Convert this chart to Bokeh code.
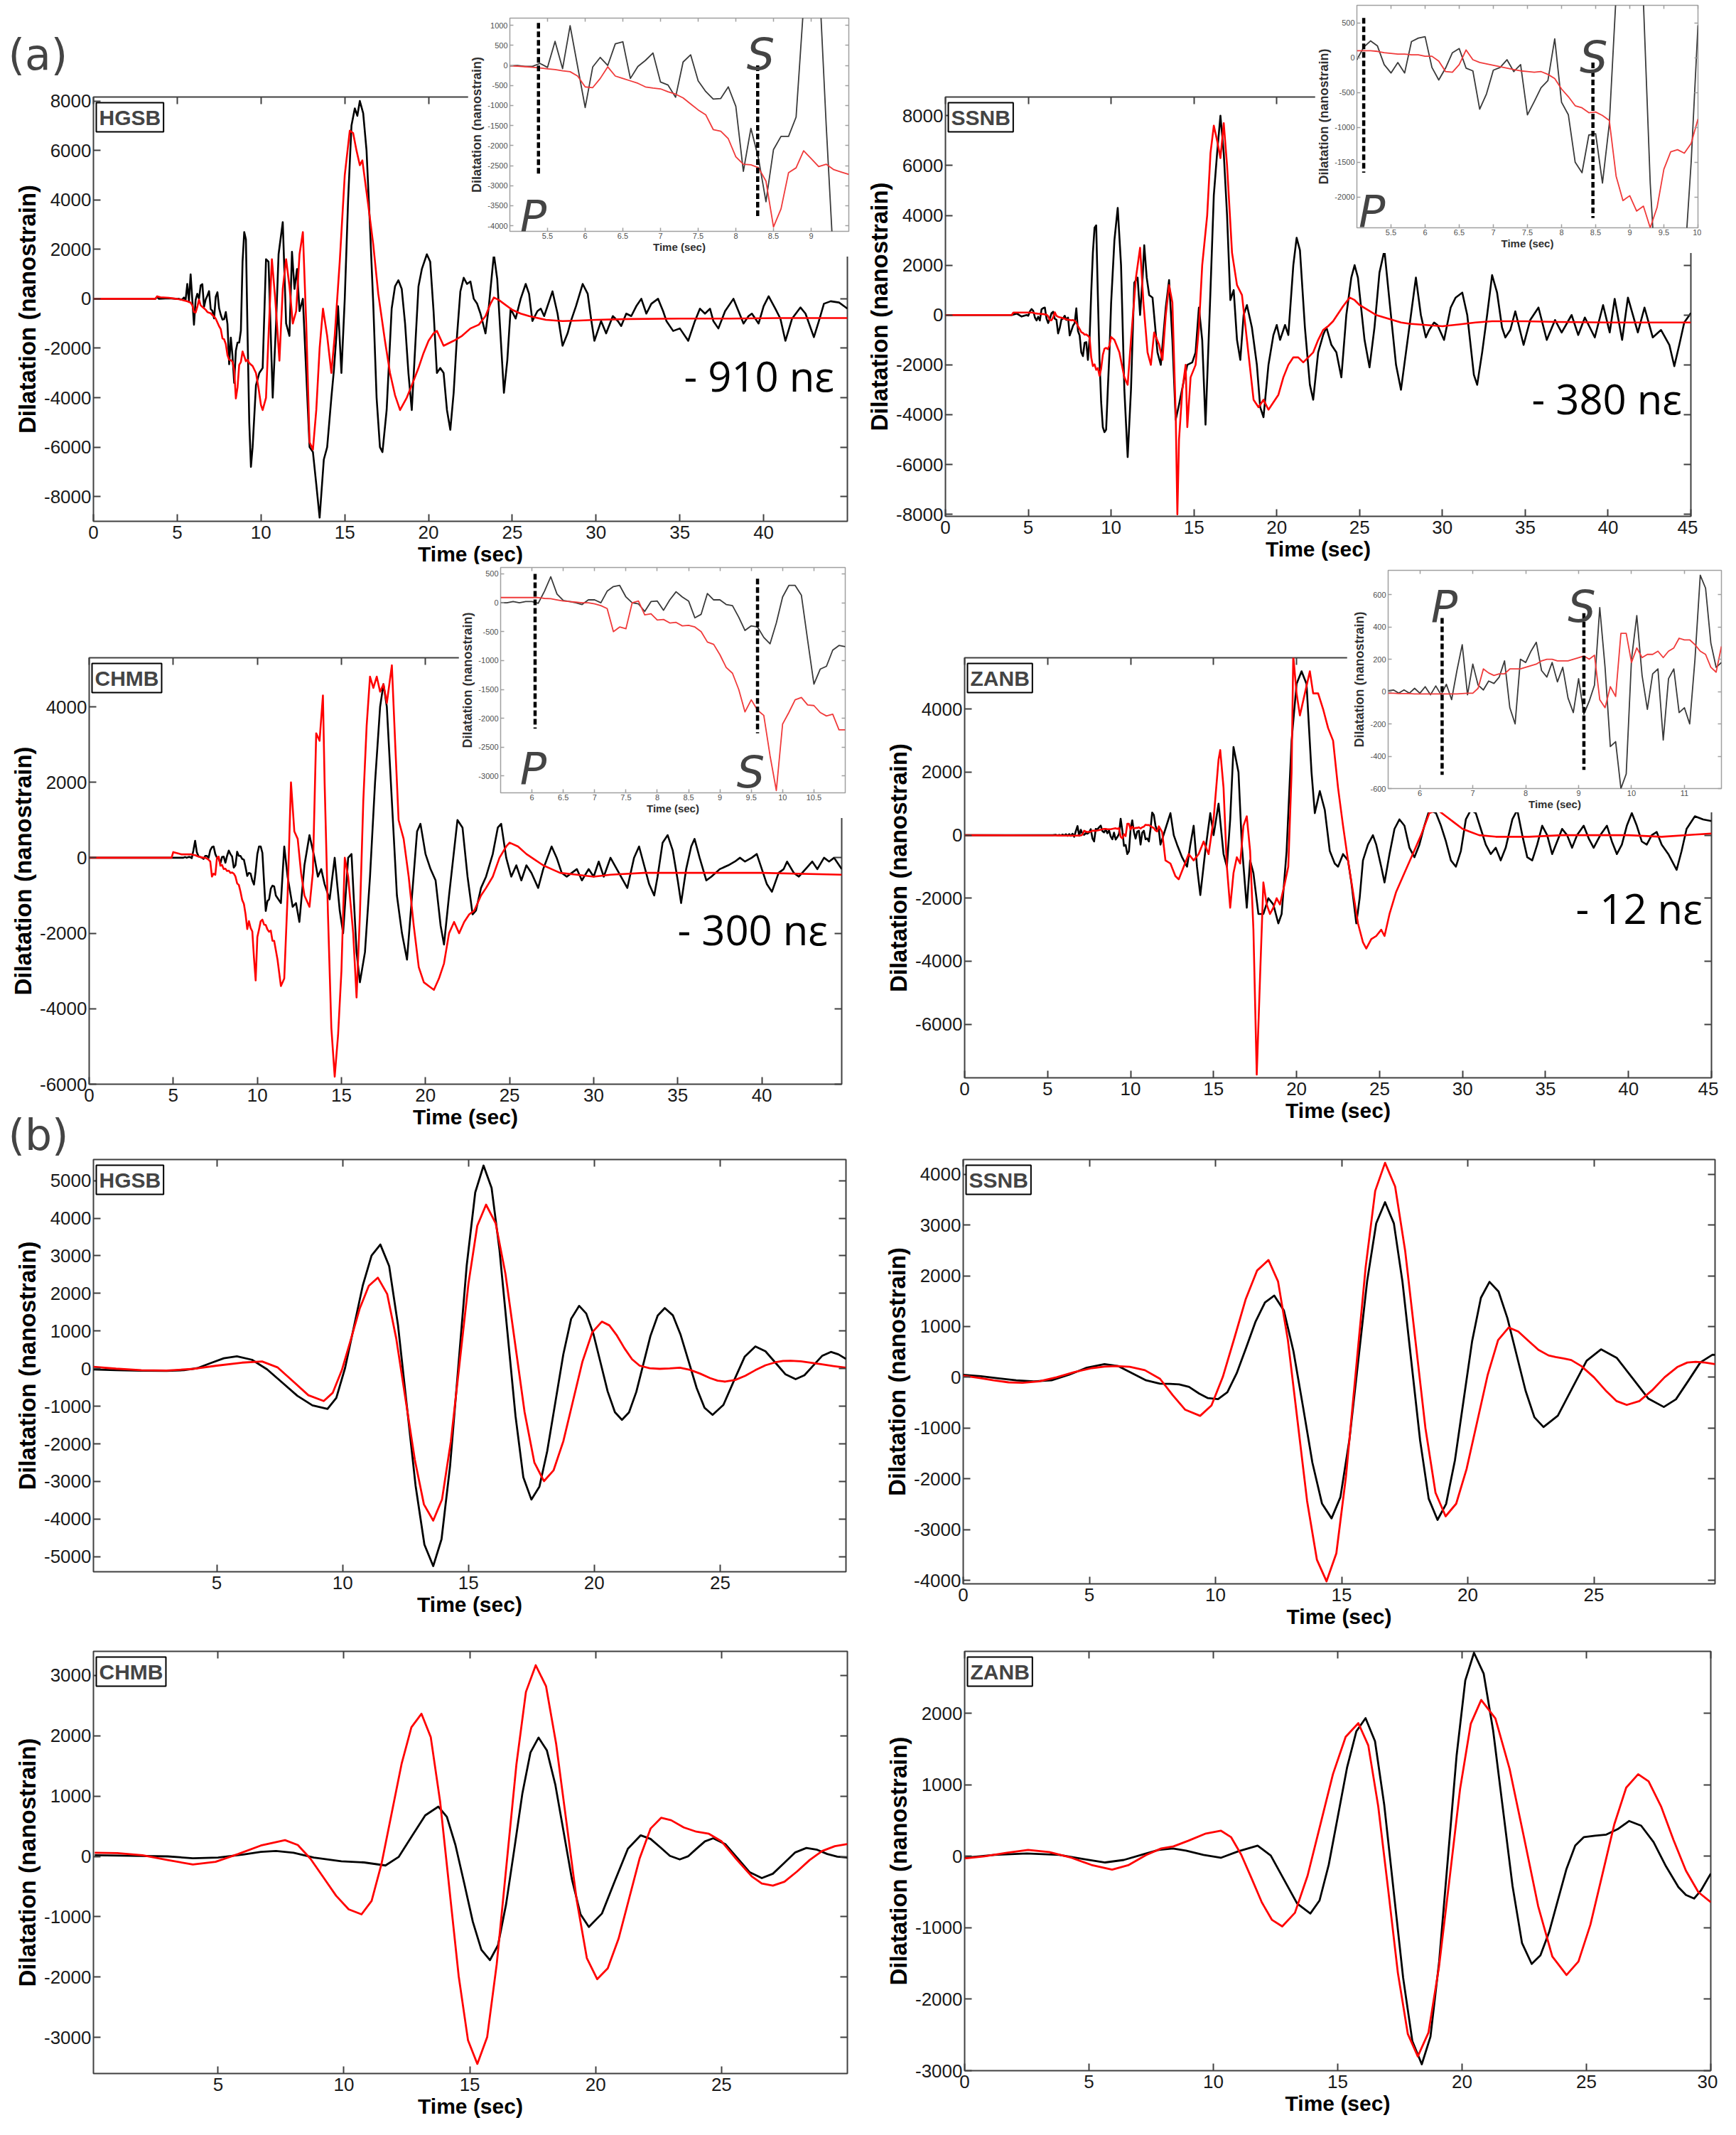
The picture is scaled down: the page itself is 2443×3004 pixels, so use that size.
from bokeh.plotting import figure
from bokeh.models import Range1d, FixedTicker, NumeralTickFormatter, LinearAxis, Label
from bokeh.layouts import row, column
from bokeh.embed import file_html
from bokeh.resources import INLINE

# ===================== DATA =====================
# ---- (a) recorded (black) vs modelled (red) dilatation, 0.1 s samples in the zoom window ----
# HGSB
hgsb_zoom_start = 5.0
hgsb_obs_zoom = [-10, 0, -25, -25, 50, -50, 600, -80, 990, -30,
                 -1050, -40, 200, 0, 540, 590, -325, -25, 125, 310,
                 -415, -490, -795, 85, 265, -385, -650, -840, -825, -535,
                 -1020, -2645, -1570, -2310, -3400, -2100, -1770, -1770, -1290, 1500,
                 2700, 2400, -1500, -5000, -6800, -6000]
hgsb_syn_zoom = [-10, -20, -30, -45, -65, -84, -102, -133, -157, -265,
                 -536, -554, -325, -36, -265, -325, -385, -446, -536, -566,
                 -585, -657, -717, -810, -960, -1110, -1230, -1600, -1640, -1830,
                 -2280, -2465, -2480, -2550, -2885, -4030, -3580, -2675, -2555, -2130,
                 -2325, -2525, -2465, -2600, -2660, -2720]
hgsb_obs_pre = [(0, 0), (3.7, 0), (3.8, 80), (3.9, 0), (4.5, 20), (4.9, 0)]
hgsb_syn_pre = [(0, 0), (3.7, 0), (3.8, 100), (4.0, 60), (4.5, 40), (4.9, 0)]
hgsb_obs_post = [(9.7, -3500), (9.9, -3000), (10.1, -2800), (10.3, 1600), (10.45, 1500), (10.7, -4000), (10.9, -1000),
                 (11.05, 1800), (11.3, 3100), (11.5, -1000), (11.7, -1500), (11.85, 1900), (12.0, 400), (12.15, 1200),
                 (12.3, -500), (12.5, 0), (12.7, -3000), (12.9, -6000), (13.1, -6200), (13.3, -7500), (13.5, -8850),
                 (13.75, -6500), (13.95, -6000), (14.2, -4000), (14.35, -2900), (14.5, -1500), (14.6, -300),
                 (14.8, -3000), (15.0, 0), (15.2, 4000), (15.4, 7000), (15.6, 7700), (15.75, 7400), (15.9, 8000),
                 (16.1, 7500), (16.3, 6000), (16.5, 3000), (16.7, -200), (16.9, -4000), (17.1, -6000), (17.25, -6200),
                 (17.5, -4500), (17.8, -400), (18.0, 500), (18.2, 750), (18.4, 400), (18.6, -1000), (18.8, -3000),
                 (19.0, -4500), (19.2, -2000), (19.4, 500), (19.6, 1200), (19.9, 1800), (20.1, 1500), (20.3, -500),
                 (20.5, -3000), (20.7, -2800), (20.9, -3000), (21.1, -4500), (21.3, -5300), (21.5, -3800),
                 (21.7, -1500), (21.9, 300), (22.1, 850), (22.3, 600), (22.5, 700), (22.7, 0), (22.9, -200),
                 (23.1, -600), (23.4, -1400), (23.6, -300), (23.9, 1800), (24.1, 800), (24.3, -1500), (24.5, -3800),
                 (24.7, -2500), (24.9, -400), (25.2, -800), (25.5, 0), (25.8, 600), (26.0, 200), (26.2, -900),
                 (26.5, -500), (26.7, -400), (26.9, -700), (27.2, -100), (27.4, 300), (27.7, -600), (28.0, -1900),
                 (28.3, -1400), (28.5, -900), (28.8, -300), (29.2, 600), (29.5, 200), (29.7, -800), (29.9, -1700),
                 (30.2, -1100), (30.3, -900), (30.6, -1400), (31.0, -700), (31.3, -900), (31.5, -1100), (31.8, -600),
                 (32.1, -700), (32.4, -300), (32.7, 0), (33.0, -600), (33.3, -200), (33.7, 0), (34.0, -500),
                 (34.2, -900), (34.6, -1300), (35.0, -1200), (35.5, -1700), (35.9, -900), (36.2, -400), (36.5, -600),
                 (36.8, -400), (37.0, -900), (37.3, -1200), (37.7, -500), (38.2, 0), (38.5, -500), (38.8, -1000),
                 (39.1, -700), (39.3, -600), (39.7, -1000), (40.0, -300), (40.3, 100), (40.7, -400), (41.0, -800),
                 (41.3, -1700), (41.7, -800), (42.2, -350), (42.5, -600), (43.0, -1550), (43.3, -900), (43.6, -200),
                 (44.0, -100), (44.5, -150), (44.8, -300), (45.0, -400)]
hgsb_syn_post = [(9.7, -3000), (9.85, -3600), (10.0, -4300), (10.1, -4500), (10.3, -4000), (10.45, -1500),
                 (10.65, 1600), (10.85, 0), (11.1, -2500), (11.3, 400), (11.5, 1600), (11.7, 500), (11.9, -1000),
                 (12.1, -500), (12.3, 1800), (12.5, 2700), (12.7, -1000), (12.9, -5800), (13.1, -6100), (13.3, -4500),
                 (13.5, -2000), (13.7, -400), (13.95, -1500), (14.2, -3000), (14.4, -1500), (14.7, 1500), (15.0, 5000),
                 (15.3, 6800), (15.5, 6700), (15.7, 6000), (15.9, 5400), (16.05, 5600), (16.4, 3800), (16.7, 2200),
                 (17.0, 200), (17.4, -1700), (17.7, -3000), (18.0, -3900), (18.3, -4500), (18.7, -4000), (19.0, -3500),
                 (19.4, -2800), (19.7, -2200), (20.0, -1700), (20.3, -1400), (20.5, -1300), (20.7, -1600),
                 (20.9, -1900), (21.2, -1800), (21.5, -1700), (22.0, -1500), (22.5, -1200), (23.0, -1050),
                 (23.4, -700), (23.7, -200), (23.9, 50), (24.2, -50), (24.5, -200), (25.0, -450), (25.5, -600),
                 (26.0, -700), (27.0, -850), (28.0, -900), (29.0, -880), (30.0, -850), (32.0, -820), (35.0, -800),
                 (38.0, -800), (41.0, -780), (45.0, -780)]

# SSNB
ssnb_zoom_start = 5.0
ssnb_obs_zoom = [-30, 150, 240, 170, -100, -220, -70, -220, 230, 280,
                 300, -140, -320, -150, 70, 130, -150, -190, -740, -520,
                 -180, -140, -30, -200, -100, -820, -630, -430, -330, 270,
                 -640, -820, -1500, -1650, -1110, -1090, -1800, -950, 900, 2500,
                 3500, 3600, 800, -1800, -3500, -4500, -4700, -4600, -3000, -1500,
                 465]
ssnb_syn_zoom = [100, 100, 100, 90, 70, 60, 50, 50, 40, 40,
                 20, 20, -50, -200, -210, -100, 110, -30, -70, -90,
                 -110, -130, -150, -170, -190, -200, -210, -200, -240, -300,
                 -450, -560, -690, -720, -790, -780, -830, -900, -1700, -2050,
                 -1980, -2200, -2130, -2440, -2150, -1600, -1350, -1320, -1370, -1230,
                 -880]
ssnb_obs_pre = [(0, 0), (4.0, 0), (4.3, 60), (4.6, -60), (4.9, 0)]
ssnb_syn_pre = [(0, 0), (4.0, 0), (4.1, 100), (4.9, 100)]
ssnb_obs_post = [(10.2, 3000), (10.4, 4300), (10.6, 2000), (10.8, -3000), (11.0, -5700), (11.2, -3000), (11.4, 1300),
                 (11.6, 1500), (11.75, 0), (11.9, 1500), (12.0, 2800), (12.15, 1500), (12.3, 800), (12.5, 700),
                 (12.8, -1500), (13.0, -2000), (13.3, 300), (13.5, 1400), (13.7, -1000), (13.9, -4200), (14.1, -3600),
                 (14.4, -2600), (14.6, -2000), (14.9, -1900), (15.1, -1500), (15.3, 300), (15.5, -1000), (15.7, -4400),
                 (16.0, 1000), (16.2, 4800), (16.4, 6500), (16.6, 8000), (16.8, 6500), (17.0, 4000), (17.2, 600),
                 (17.4, 1000), (17.6, -1000), (17.8, -1800), (18.0, 0), (18.2, 400), (18.5, -500), (18.8, -2000),
                 (19.0, -3700), (19.2, -4100), (19.5, -2000), (19.8, -800), (20.0, -400), (20.2, -1000), (20.5, -400),
                 (20.7, -800), (21.0, 2000), (21.2, 3100), (21.4, 2600), (21.7, -500), (22.0, -2800), (22.2, -3400),
                 (22.5, -1500), (22.8, -800), (23.0, -500), (23.3, -1200), (23.6, -1500), (23.9, -2500), (24.2, 0),
                 (24.5, 1500), (24.7, 2000), (24.9, 1500), (25.3, -1000), (25.6, -2100), (25.9, -500), (26.2, 1700),
                 (26.5, 2600), (26.8, 600), (27.2, -2000), (27.5, -3000), (27.8, -1500), (28.1, 0), (28.4, 1500),
                 (28.7, 0), (29.0, -900), (29.2, -600), (29.5, -300), (29.7, -400), (30.1, -1000), (30.5, 300),
                 (30.8, 700), (31.2, 900), (31.5, 0), (31.9, -2400), (32.1, -2800), (32.4, -1500), (32.7, 0),
                 (33.0, 1600), (33.3, 900), (33.6, -500), (33.8, -900), (34.1, -600), (34.4, 150), (34.9, -1200),
                 (35.3, -200), (35.8, 300), (36.3, -1000), (36.8, -200), (37.2, -700), (37.8, 0), (38.2, -800),
                 (38.6, -100), (39.2, -900), (39.7, 400), (40.1, -700), (40.4, 650), (40.85, -1000), (41.2, 700),
                 (41.8, -700), (42.2, 300), (42.7, -900), (43.2, -600), (43.7, -1200), (44.0, -2050), (44.3, -1200),
                 (44.6, -300), (45.0, 80)]
ssnb_syn_post = [(10.2, -1000), (10.5, -1500), (10.8, -2500), (11.0, -2800), (11.2, -1000), (11.5, 1500),
                 (11.75, 2700), (11.95, 500), (12.2, -1500), (12.4, -2000), (12.6, -700), (12.9, -1200), (13.1, -1800),
                 (13.3, 0), (13.5, 1200), (13.7, 500), (13.9, -4000), (14.0, -8000), (14.1, -5000), (14.3, -3000),
                 (14.5, -2000), (14.6, -4500), (14.8, -2500), (15.1, -2000), (15.3, -500), (15.5, 2000), (15.8, 4000),
                 (16.0, 6500), (16.2, 7600), (16.4, 7000), (16.6, 6300), (16.8, 7700), (17.0, 6000), (17.3, 2500),
                 (17.6, 1200), (17.9, 800), (18.2, -1000), (18.6, -3400), (18.9, -3700), (19.2, -3400), (19.5, -3800),
                 (19.8, -3500), (20.1, -3200), (20.4, -2500), (20.7, -2000), (21.0, -1700), (21.3, -1700),
                 (21.6, -1900), (21.9, -1700), (22.2, -1500), (22.5, -1000), (22.8, -600), (23.1, -450), (23.4, -250),
                 (23.7, 50), (24.0, 350), (24.4, 700), (24.7, 600), (25.0, 400), (25.5, 200), (26.0, 0), (26.5, -100),
                 (27.0, -200), (27.5, -300), (28.0, -350), (29.0, -400), (30.0, -450), (31.0, -380), (32.0, -300),
                 (33.0, -250), (35.0, -250), (37.0, -280), (40.0, -300), (45.0, -300)]

# CHMB
chmb_zoom_start = 5.5
chmb_obs_zoom = [0, 0, 20, 0, 20,
                 20, -10, 200, 450, 150, 40, 20, 0, -30, 50,
                 50, 0, 200, 280, 300, 100, 0, -20, -150, 20,
                 30, -130, 50, 190, 100, 30, -260, -200, 160, 50,
                 50, -30, -50, -250, -480, -400, -420, -600, -710, -350,
                 100, 300, 300, 130, -650, -1410, -1150, -1100, -820, -740,
                 -760]
chmb_syn_zoom = [90, 90, 90, 90, 90,
                 90, 90, 75, 70, 50, 30, 20, 10, 0, 0,
                 -20, -50, -100, -500, -420, -450, 0, 30, -210, -190,
                 -300, -290, -350, -340, -400, -390, -420, -500, -680, -720,
                 -900, -1120, -1220, -1500, -1890, -1680, -1860, -1950, -2650, -3250,
                 -2100, -1900, -1680, -1640, -1770, -1780, -1900, -1960, -1930, -2200,
                 -2200]
chmb_obs_pre = [(0, 0), (5.4, 0)]
chmb_syn_pre = [(0, 0), (4.9, 0), (5.0, 150), (5.4, 100)]
chmb_obs_post = [(11.1, -1000), (11.4, -1200), (11.6, 300), (11.8, -500), (12.1, -1300), (12.3, -1200), (12.5, -1700),
                 (12.8, -200), (13.1, 600), (13.4, 0), (13.6, -500), (13.8, -300), (14.0, -700), (14.3, -1100),
                 (14.6, 0), (14.9, -1400), (15.1, -2000), (15.4, 0), (15.6, 100), (15.9, -2500), (16.1, -3300),
                 (16.4, -2500), (16.7, -500), (17.0, 2000), (17.3, 4000), (17.5, 4600), (17.7, 4000), (18.0, 1500),
                 (18.3, -1000), (18.6, -2000), (18.9, -2700), (19.2, -1000), (19.5, 700), (19.7, 900), (20.0, 100),
                 (20.3, -300), (20.6, -600), (20.9, -1800), (21.1, -2300), (21.4, -1000), (21.7, 200), (21.9, 1000),
                 (22.2, 800), (22.5, -500), (22.8, -1500), (23.0, -1400), (23.3, -800), (23.6, -500), (24.0, 100),
                 (24.3, 800), (24.5, 900), (24.8, 0), (25.1, -500), (25.4, -200), (25.7, -600), (26.0, -200),
                 (26.3, -400), (26.7, -800), (27.0, -300), (27.5, 300), (27.8, 0), (28.1, -400), (28.4, -500),
                 (28.7, -400), (29.0, -300), (29.3, -600), (29.7, -300), (30.0, -500), (30.3, -100), (30.6, -500),
                 (31.0, 0), (31.5, -400), (32.0, -800), (32.4, 0), (32.7, 300), (33.0, -200), (33.3, -700),
                 (33.6, -1000), (33.8, -500), (34.1, 400), (34.4, 600), (34.7, 200), (35.0, -600), (35.2, -1200),
                 (35.5, -300), (35.8, 300), (36.0, 500), (36.3, 0), (36.7, -600), (37.0, -500), (37.5, -300),
                 (38.0, -200), (38.4, -100), (38.7, 0), (39.0, -100), (39.4, 0), (39.7, 100), (40.0, -300),
                 (40.3, -700), (40.6, -900), (41.0, -400), (41.3, -300), (41.5, -100), (41.9, -400), (42.2, -500),
                 (42.6, -300), (43.0, -100), (43.3, -300), (43.7, 0), (44.0, -100), (44.3, 0), (44.75, -300)]
chmb_syn_post = [(11.2, -2700), (11.4, -3400), (11.6, -3200), (11.8, -1000), (12.0, 2000), (12.2, 700), (12.4, 500),
                 (12.6, -400), (12.8, -1000), (13.1, -1300), (13.3, -400), (13.5, 3300), (13.7, 3100), (13.9, 4300),
                 (14.0, 2000), (14.2, -1500), (14.4, -4500), (14.6, -5800), (14.8, -4700), (15.0, -3000), (15.2, 0),
                 (15.4, -500), (15.7, -2000), (15.9, -3700), (16.1, -1500), (16.3, 1500), (16.5, 3500), (16.7, 4800),
                 (16.9, 4500), (17.1, 4800), (17.3, 4400), (17.5, 4600), (17.7, 4100), (18.0, 5100), (18.2, 3000),
                 (18.4, 1000), (18.7, 500), (19.0, -500), (19.3, -1800), (19.6, -2900), (19.9, -3300), (20.2, -3400),
                 (20.5, -3500), (20.8, -3200), (21.1, -2800), (21.4, -2000), (21.7, -1700), (22.0, -2000),
                 (22.3, -1700), (22.6, -1500), (22.9, -1400), (23.3, -1000), (23.6, -800), (24.0, -500), (24.4, 0),
                 (24.8, 300), (25.0, 400), (25.5, 300), (26.0, 100), (26.5, -50), (27.0, -200), (27.5, -300),
                 (28.0, -400), (29.0, -450), (30.0, -500), (31.0, -450), (33.0, -400), (36.0, -400), (40.0, -400),
                 (44.75, -450)]

# ZANB
zanb_zoom_start = 5.4
zanb_obs_zoom = [5, 10, -10, 10, -10, 20,
                 -10, 30, -20, 35, -20, 45, -50, 130, 290, -20,
                 170, 40, 10, 65, 50, 90, 190, -100, -200, 200,
                 180, 250, 305, 130, 90, 180, 60, 150, -40, -130,
                 80, -140, -60, 40, 520, 150, -340, -310, -600, -510,
                 200, 470, 100, -110, 110, 140, -300, 80, 140, -130,
                 -100, -200, 200, 720, 640, 300, 150, 180]
zanb_syn_zoom = [-10, -10, -12, -12, -12, -15,
                 -15, -15, -15, -15, -15, -15, -15, -15, -12, -10,
                 -10, 20, 140, 115, 100, 110, 110, 140, 140, 140,
                 150, 160, 170, 190, 200, 200, 190, 190, 190, 200,
                 210, 220, 200, 225, -50, -100, 30, -30, 360, 360,
                 180, 270, 210, 230, 230, 250, 210, 250, 270, 330,
                 320, 320, 290, 250, 230, 150, 120, 280]
zanb_obs_pre = [(0, 0), (5.3, 0)]
zanb_syn_pre = [(0, 0), (5.3, -10)]
zanb_obs_post = [(11.8, -300), (12.1, 200), (12.4, 700), (12.6, 0), (12.8, -300), (13.1, -700), (13.4, -1000),
                 (13.6, -300), (13.8, 300), (14.0, -1000), (14.2, -1900), (14.5, -500), (14.8, 700), (15.0, 0),
                 (15.3, 1000), (15.6, -600), (15.8, -1000), (16.0, 500), (16.2, 2800), (16.5, 2000), (16.7, -300),
                 (17.0, -2300), (17.2, -800), (17.4, -1200), (17.7, -2500), (18.0, -2500), (18.3, -2000),
                 (18.6, -2200), (18.9, -2800), (19.1, -2500), (19.4, -500), (19.7, 3000), (20.0, 4800), (20.3, 5200),
                 (20.6, 4800), (20.9, 2000), (21.1, 700), (21.4, 1400), (21.7, 800), (22.0, -500), (22.3, -900),
                 (22.5, -1000), (22.8, -600), (23.1, -800), (23.3, -1500), (23.6, -2800), (23.8, -2000), (24.0, -800),
                 (24.3, -300), (24.6, 0), (24.8, -300), (25.1, -1000), (25.3, -1500), (25.6, -600), (25.9, 200),
                 (26.2, 500), (26.5, 300), (26.8, -400), (27.1, -700), (27.4, -300), (27.7, 300), (28.0, 800),
                 (28.4, 700), (28.7, 300), (29.0, -200), (29.3, -800), (29.6, -1000), (29.9, -500), (30.2, 500),
                 (30.5, 800), (30.8, 700), (31.1, 200), (31.4, -300), (31.7, -600), (32.0, -400), (32.3, -800),
                 (32.6, -400), (33.0, 500), (33.3, 800), (33.6, 0), (33.9, -700), (34.2, -800), (34.5, -300),
                 (34.8, 300), (35.1, 0), (35.4, -600), (35.7, -200), (36.0, 200), (36.3, 0), (36.6, -400), (36.9, 0),
                 (37.3, 300), (37.6, -100), (37.9, -400), (38.3, 0), (38.7, 300), (39.0, -200), (39.3, -600),
                 (39.6, -300), (39.9, 300), (40.2, 700), (40.5, 300), (40.8, -200), (41.1, -300), (41.4, 0),
                 (41.7, 100), (42.0, -300), (42.4, -600), (42.9, -1100), (43.2, -500), (43.5, 200), (44.0, 600),
                 (44.5, 500), (45.0, 450)]
zanb_syn_post = [(11.9, 100), (12.1, -800), (12.4, -900), (12.7, -1300), (12.9, -1400), (13.2, -1000), (13.5, -600),
                 (13.8, -800), (14.1, -600), (14.4, -200), (14.7, -600), (15.0, 500), (15.3, 2400), (15.4, 2700),
                 (15.6, 1500), (15.8, -1000), (16.0, -2300), (16.2, -1200), (16.4, -700), (16.6, -900), (16.8, 300),
                 (17.0, 600), (17.2, -500), (17.4, -3000), (17.6, -7600), (17.8, -4500), (18.0, -1500), (18.2, -2200),
                 (18.4, -2500), (18.6, -2300), (18.8, -2000), (19.0, -2200), (19.3, -1500), (19.5, -1000),
                 (19.7, 2000), (19.8, 5700), (20.0, 4500), (20.2, 3800), (20.5, 4500), (20.8, 5200), (21.0, 4500),
                 (21.3, 4500), (21.6, 4000), (21.9, 3400), (22.2, 3000), (22.5, 1500), (22.8, 300), (23.1, -800),
                 (23.4, -1800), (23.7, -2800), (24.0, -3400), (24.2, -3600), (24.5, -3300), (24.8, -3200),
                 (25.1, -3000), (25.3, -3200), (25.6, -2500), (26.0, -1800), (26.5, -1200), (27.0, -600), (27.5, 0),
                 (28.0, 700), (28.5, 800), (29.0, 600), (29.5, 400), (30.0, 200), (30.5, 100), (31.0, 0),
                 (32.0, -50), (34.0, -50), (36.0, 0), (40.0, 0), (42.0, -50), (44.0, 20), (45.0, 50)]

# P / S arrival picks (time, top, bottom), their letters, and the final offsets
hgsb_p = (5.38, 1060, -2765); hgsb_s = (8.29, 0, -3790)
ssnb_p = (5.10, 570, -1650); ssnb_s = (8.46, -70, -2300)
chmb_p = (6.05, 500, -2180); chmb_s = (9.60, 415, -2260)
zanb_p = (6.42, 455, -515); zanb_s = (9.10, 485, -485)
hgsb_ps_text = ((5.31, -3760), (8.33, 277))
ssnb_ps_text = ((5.22, -2210), (8.47, 10))
chmb_ps_text = ((6.02, -2874), (9.49, -2937))
zanb_ps_text = ((6.46, 524), (9.06, 524))
offset_labels = {"HGSB": "- 910 nε", "SSNB": "- 380 nε", "CHMB": "- 300 nε", "ZANB": "- 12 nε"}

# ---- (b) filtered waveforms ----
hgsb_b_obs = [(0.1, -20), (1.0, -40), (2.0, -55), (3.0, -60), (3.7, -40), (4.23, 14), (4.75, 145), (5.28, 276),
              (5.8, 330), (6.4, 236), (7.0, -20), (7.6, -370), (8.2, -720), (8.8, -976), (9.4, -1070), (9.75, -777),
              (10.1, 23), (10.45, 1115), (10.8, 2207), (11.15, 3007), (11.5, 3300), (11.85, 2727), (12.2, 1162),
              (12.55, -975), (12.9, -3112), (13.25, -4677), (13.6, -5250), (13.93, -4536), (14.27, -2587),
              (14.6, 75), (14.93, 2737), (15.27, 4686), (15.6, 5400), (15.92, 4805), (16.23, 3180), (16.55, 960),
              (16.87, -1260), (17.18, -2885), (17.5, -3480), (17.82, -3135), (18.13, -2192), (18.45, -905),
              (18.77, 382), (19.08, 1325), (19.4, 1670), (19.68, 1467), (19.97, 912), (20.25, 155), (20.53, -602),
              (20.82, -1157), (21.1, -1360), (21.38, -1161), (21.67, -617), (21.95, 125), (22.23, 867),
              (22.52, 1411), (22.8, 1610), (23.12, 1420), (23.43, 900), (23.75, 190), (24.07, -520), (24.38, -1040),
              (24.7, -1230), (25.13, -963), (25.55, -320), (25.98, 323), (26.4, 590), (26.8, 463), (27.2, 155),
              (27.6, -153), (28.0, -280), (28.35, -174), (28.7, 82), (29.05, 338), (29.4, 445), (29.7, 380),
              (30.0, 260)]
hgsb_b_syn = [(0.1, 50), (1.0, 0), (2.0, -40), (3.0, -50), (4.0, -10), (5.0, 80), (6.0, 160), (6.8, 190), (7.41, 36),
              (8.03, -335), (8.64, -706), (9.25, -860), (9.61, -640), (9.97, -40), (10.33, 780), (10.68, 1600),
              (11.04, 2200), (11.4, 2420), (11.77, 1987), (12.13, 805), (12.5, -810), (12.87, -2425), (13.23, -3607),
              (13.6, -4040), (13.95, -3477), (14.3, -1940), (14.65, 160), (15.0, 2260), (15.35, 3797), (15.7, 4360),
              (16.08, 3868), (16.47, 2522), (16.85, 685), (17.23, -1152), (17.62, -2498), (18.0, -2990),
              (18.38, -2706), (18.77, -1930), (19.15, -870), (19.53, 190), (19.92, 966), (20.3, 1250), (20.6, 1150),
              (20.9, 880), (21.2, 540), (21.5, 250), (21.8, 80), (22.2, 10), (22.6, -5), (23.0, 5), (23.4, 25),
              (23.8, -30), (24.2, -130), (24.6, -250), (24.9, -320), (25.2, -345), (25.6, -300), (26.0, -190),
              (26.4, -40), (26.8, 90), (27.2, 170), (27.5, 205), (27.8, 210), (28.2, 195), (28.6, 160), (29.0, 120),
              (29.5, 70), (30.0, 25)]
ssnb_b_obs = [(0, 50), (0.7, 20), (1.4, -20), (2.1, -60), (2.8, -80), (3.5, -60), (4.2, 50), (4.9, 190), (5.6, 260),
              (6.15, 220), (6.7, 80), (7.25, -60), (7.8, -125), (8.2, -130), (8.56, -140), (8.95, -190),
              (9.35, -320), (9.7, -410), (10.1, -430), (10.47, -293), (10.84, 80), (11.22, 590), (11.59, 1100),
              (11.96, 1473), (12.33, 1610), (12.71, 1316), (13.09, 512), (13.47, -585), (13.84, -1682),
              (14.22, -2486), (14.6, -2780), (14.95, -2363), (15.31, -1222), (15.66, 335), (16.01, 1892),
              (16.37, 3033), (16.72, 3450), (17.07, 3031), (17.41, 1885), (17.76, 320), (18.11, -1245),
              (18.45, -2391), (18.8, -2810), (19.14, -2496), (19.49, -1637), (19.83, -465), (20.17, 707),
              (20.52, 1566), (20.86, 1880), (21.22, 1688), (21.57, 1165), (21.93, 450), (22.29, -265),
              (22.64, -788), (23.0, -980), (23.57, -756), (24.14, -215), (24.71, 326), (25.28, 550), (25.9, 384),
              (26.53, -17), (27.15, -418), (27.77, -585), (28.25, -434), (28.74, -70), (29.22, 294), (29.7, 445),
              (29.8, 440)]
ssnb_b_syn = [(0, 30), (0.6, -10), (1.2, -60), (1.8, -100), (2.35, -110), (3.0, -80), (3.7, 0), (4.4, 100),
              (5.1, 180), (5.6, 210), (6.05, 220), (6.6, 205), (7.2, 140), (7.8, -30), (8.3, -350), (8.8, -640),
              (9.39, -760), (9.84, -554), (10.29, 7), (10.75, 775), (11.2, 1543), (11.65, 2104), (12.1, 2310),
              (12.48, 1886), (12.87, 728), (13.25, -855), (13.63, -2438), (14.02, -3596), (14.4, -4020),
              (14.79, -3468), (15.17, -1959), (15.56, 102), (15.95, 2163), (16.33, 3672), (16.72, 4225),
              (17.12, 3758), (17.52, 2483), (17.92, 742), (18.32, -999), (18.72, -2274), (19.12, -2740),
              (19.54, -2491), (19.95, -1810), (20.37, -880), (20.79, 50), (21.2, 731), (21.62, 980), (22.0, 900),
              (22.4, 720), (22.8, 540), (23.2, 430), (23.48, 400), (23.8, 370), (24.1, 340), (24.5, 220), (25.0, 0),
              (25.5, -280), (25.9, -470), (26.3, -545), (26.8, -470), (27.3, -260), (27.8, 0), (28.3, 200),
              (28.7, 290), (29.03, 305), (29.4, 290), (29.8, 260)]
chmb_b_obs = [(0.1, 20), (1.5, 10), (3.0, 0), (4.0, -30), (5.0, -20), (6.0, 30), (6.7, 75), (7.3, 90), (8.0, 60),
              (8.8, -20), (9.9, -80), (10.8, -100), (11.65, -150), (12.18, -7), (12.7, 337), (13.23, 681),
              (13.75, 825), (14.09, 655), (14.43, 189), (14.78, -447), (15.12, -1083), (15.46, -1549), (15.8, -1720),
              (16.12, -1473), (16.44, -797), (16.77, 125), (17.09, 1047), (17.41, 1723), (17.73, 1970),
              (18.06, 1760), (18.4, 1185), (18.73, 400), (19.06, -385), (19.4, -960), (19.73, -1170),
              (20.25, -947), (20.76, -410), (21.28, 127), (21.79, 350), (22.18, 291), (22.57, 150), (22.95, 9),
              (23.34, -50), (23.67, 1), (24.0, 125), (24.34, 249), (24.67, 300), (25.15, 203), (25.64, -30),
              (26.12, -263), (26.6, -360), (27.04, -287), (27.49, -110), (27.93, 67), (28.37, 140), (28.8, 110),
              (29.2, 40), (29.6, -5), (30.0, -20)]
chmb_b_syn = [(0.1, 60), (1.0, 55), (2.0, 20), (3.0, -60), (4.0, -135), (4.9, -90), (5.8, 40), (6.7, 180),
              (7.66, 270), (8.17, 188), (8.67, -38), (9.18, -345), (9.69, -652), (10.19, -878), (10.7, -960),
              (11.1, -737), (11.49, -129), (11.89, 702), (12.29, 1533), (12.68, 2141), (13.08, 2365), (13.45, 1976),
              (13.82, 914), (14.19, -537), (14.56, -1988), (14.93, -3050), (15.3, -3440), (15.69, -2997),
              (16.07, -1787), (16.46, -135), (16.85, 1517), (17.23, 2727), (17.62, 3170), (18.03, 2820),
              (18.43, 1868), (18.84, 567), (19.25, -734), (19.65, -1686), (20.06, -2035), (20.48, -1855),
              (20.91, -1365), (21.33, -697), (21.75, -29), (22.18, 461), (22.6, 640), (23.0, 600), (23.5, 480),
              (24.0, 410), (24.5, 375), (25.0, 250), (25.6, -50), (26.2, -330), (26.6, -450), (27.04, -485),
              (27.5, -420), (28.0, -250), (28.5, -60), (29.0, 90), (29.5, 170), (30.0, 205)]
zanb_b_obs = [(0, -20), (1.2, 20), (2.5, 40), (3.8, 20), (4.8, -40), (5.65, -85), (6.4, -50), (7.2, 30), (7.8, 90),
              (8.37, 110), (8.9, 80), (9.6, 20), (10.3, -20), (11.0, 70), (11.78, 150), (12.31, 11), (12.84, -325),
              (13.37, -661), (13.9, -800), (14.27, -617), (14.64, -116), (15.01, 567), (15.38, 1250), (15.75, 1751),
              (16.12, 1935), (16.5, 1611), (16.87, 724), (17.25, -487), (17.63, -1698), (18.0, -2585),
              (18.38, -2910), (18.73, -2524), (19.08, -1470), (19.43, -30), (19.78, 1410), (20.13, 2464),
              (20.48, 2850), (20.87, 2557), (21.25, 1761), (21.64, 672), (22.03, -416), (22.41, -1213),
              (22.8, -1505), (23.15, -1385), (23.5, -1061), (23.85, -617), (24.2, -174), (24.55, 151), (24.9, 270),
              (25.35, 290), (25.8, 305), (26.25, 380), (26.72, 495), (27.2, 430), (27.7, 200), (28.2, -140),
              (28.7, -430), (29.0, -540), (29.33, -590), (29.6, -480), (30.0, -240)]
zanb_b_syn = [(0, -30), (0.8, 0), (1.7, 50), (2.55, 90), (3.4, 60), (4.3, -20), (5.1, -120), (5.93, -185),
              (6.6, -120), (7.3, 20), (7.9, 110), (8.4, 140), (9.0, 220), (9.7, 320), (10.3, 360), (10.71, 270),
              (11.12, 25), (11.54, -310), (11.95, -645), (12.36, -890), (12.77, -980), (13.28, -790), (13.79, -269),
              (14.3, 442), (14.81, 1153), (15.32, 1674), (15.83, 1865), (16.23, 1553), (16.63, 699), (17.03, -467),
              (17.42, -1633), (17.82, -2487), (18.22, -2800), (18.65, -2466), (19.07, -1552), (19.5, -305),
              (19.92, 942), (20.35, 1856), (20.77, 2190), (21.34, 1932), (21.91, 1227), (22.49, 265), (23.06, -697),
              (23.63, -1402), (24.2, -1660), (24.68, -1472), (25.16, -957), (25.64, -255), (26.12, 447),
              (26.6, 962), (27.08, 1150), (27.5, 1050), (28.0, 700), (28.5, 230), (29.0, -200), (29.5, -500),
              (30.0, -640)]

# tick positions
ticks_a_x45 = [0, 5, 10, 15, 20, 25, 30, 35, 40, 45]
ticks_a_x40 = [0, 5, 10, 15, 20, 25, 30, 35, 40]
ticks_y8000 = [-8000, -6000, -4000, -2000, 0, 2000, 4000, 6000, 8000]
ticks_y6000 = [-6000, -4000, -2000, 0, 2000, 4000]
ticks_b_x5 = [5, 10, 15, 20, 25]
ticks_b_x0 = [0, 5, 10, 15, 20, 25]
ticks_b_x30 = [0, 5, 10, 15, 20, 25, 30]

# ===================== HELPERS =====================
FONT = "Liberation Sans"


def unzip(lst):
    return [a for a, _ in lst], [b for _, b in lst]


def trace(pre, z0, zvals, post):
    t = [a for a, _ in pre] + [round(z0 + 0.1 * i, 1) for i in range(len(zvals))] + [a for a, _ in post]
    v = [b for _, b in pre] + list(zvals) + [b for _, b in post]
    return t, v


def zoom_times(z0, n):
    return [round(z0 + 0.1 * i, 1) for i in range(n)]


def make_fig(xr, yr, fw, fh, lb, rb, tb, bb, xticks, yticks, inset=False, margin=(0, 0, 0, 0)):
    if inset:
        tick_px, xl_px, yl_px, tin, oc, ow, tc, lc, xsd, xls = "11px", "15px", "18px", 5, "#a0a0a0", 1.5, "#505050", "#303030", 2, 0
    else:
        tick_px, xl_px, yl_px, tin, oc, ow, tc, lc, xsd, xls = "26px", "30px", "33px", 10, "#404040", 2, "#1a1a1a", "#000000", 6, 2
    p = figure(x_range=Range1d(*xr), y_range=Range1d(*yr), width=lb + fw + rb, height=tb + fh + bb,
               frame_width=fw, frame_height=fh,
               min_border_left=lb, min_border_right=rb, min_border_top=tb, min_border_bottom=bb,
               toolbar_location=None, tools="", output_backend="svg", margin=margin, align="start")
    p.grid.visible = False
    p.outline_line_color = oc
    p.outline_line_width = ow
    p.background_fill_color = "white"
    p.border_fill_color = "white" if inset else None
    p.xaxis.axis_label = "Time (sec)"
    p.yaxis.axis_label = "Dilatation (nanostrain)"
    for ax, ticks, lpx, sd, ls in ((p.xaxis[0], xticks, xl_px, xsd, xls), (p.yaxis[0], yticks, yl_px, 3, 2)):
        ax.ticker = FixedTicker(ticks=ticks)
        ax.formatter = NumeralTickFormatter(format="0.[0]")
        ax.major_label_text_font = FONT
        ax.major_label_text_font_size = tick_px
        ax.major_label_text_color = tc
        ax.major_label_standoff = sd
        ax.axis_label_text_font = FONT
        ax.axis_label_text_font_size = lpx
        ax.axis_label_text_font_style = "bold"
        ax.axis_label_text_color = lc
        ax.axis_label_standoff = ls
        ax.axis_line_color = None
        ax.major_tick_in = tin
        ax.major_tick_out = 0
        ax.major_tick_line_color = oc
        ax.major_tick_line_width = ow
        ax.minor_tick_line_color = None
    for side, ticks in (("right", yticks), ("above", xticks)):
        ax = LinearAxis(ticker=FixedTicker(ticks=ticks), major_label_text_font_size="1px",
                        major_label_text_color=None, axis_line_color=None,
                        major_tick_in=tin, major_tick_out=0, major_tick_line_color=oc, major_tick_line_width=ow,
                        minor_tick_line_color=None, major_label_standoff=0)
        p.add_layout(ax, side)
    return p


def name_box(p, name, fh, dy):
    p.add_layout(Label(x=4, y=fh - dy, x_units="screen", y_units="screen", text=name,
                       text_font=FONT, text_font_style="bold", text_font_size="30px",
                       text_baseline="top", text_align="left", padding=4,
                       border_line_color="black", border_line_width=2, background_fill_color="white"))


def big_text(p, txt, x, y, size="58px"):
    p.add_layout(Label(x=x, y=y, x_units="screen", y_units="screen", text=txt,
                       text_font="Open Sans", text_font_size=size, text_baseline="alphabetic",
                       text_align="left", text_color="black"))


def part_title(p, txt, standoff):
    p.title.text = txt
    p.title.align = "left"
    p.title.offset = -120
    p.title.text_font = "DejaVu Sans"
    p.title.text_font_style = "normal"
    p.title.text_font_size = "60px"
    p.title.standoff = standoff


def add_main(p, obs, syn, width=2.6):
    p.line(obs[0], obs[1], line_color="black", line_width=width, line_join="round")
    p.line(syn[0], syn[1], line_color="#ff0000", line_width=width, line_join="round")


def add_inset(p, z0, obs, syn, pick_p, pick_s, ps_text):
    t = zoom_times(z0, len(obs))
    p.line(t, obs, line_color="#3a3a3a", line_width=1.8, line_join="round")
    p.line(t, syn, line_color="#f03a3a", line_width=1.8, line_join="round")
    p.segment(x0=[pick_p[0], pick_s[0]], y0=[pick_p[1], pick_s[1]], x1=[pick_p[0], pick_s[0]],
              y1=[pick_p[2], pick_s[2]], line_color="black", line_width=4.5, line_dash="8 4")
    for (x, y), letter in zip(ps_text, ("P", "S")):
        p.add_layout(Label(x=x, y=y, text=letter, text_font="DejaVu Sans", text_font_style="italic",
                           text_font_size="62px", text_align="center", text_baseline="alphabetic"))


def wrap(fig, margin):
    # each inset sits in its own box so the row does not align its frame with the big panels
    box = column(fig)
    box.margin = margin
    box.align = "start"
    return box


# ===================== ROW 1 =====================
a_hgsb = make_fig((0, 45.0), (-9000, 8160), 1061, 597, 131, 10, 136, 80, ticks_a_x40, ticks_y8000)
add_main(a_hgsb, trace(hgsb_obs_pre, hgsb_zoom_start, hgsb_obs_zoom, hgsb_obs_post),
         trace(hgsb_syn_pre, hgsb_zoom_start, hgsb_syn_zoom, hgsb_syn_post))
name_box(a_hgsb, "HGSB", 597, 8)
big_text(a_hgsb, offset_labels["HGSB"], 831, 205)
part_title(a_hgsb, "(a)", 50)

in_hgsb = make_fig((5.0, 9.5), (-4140, 1180), 477, 300, 58, 5, 5, 36,
                   [5.5, 6, 6.5, 7, 7.5, 8, 8.5, 9], list(range(-4000, 1001, 500)), inset=True)
add_inset(in_hgsb, hgsb_zoom_start, hgsb_obs_zoom, hgsb_syn_zoom, hgsb_p, hgsb_s, hgsb_ps_text)

a_ssnb = make_fig((0, 45), (-8080, 8750), 1049, 590, 127, 10, 128, 80, ticks_a_x45, ticks_y8000,
                  margin=(0, 0, 0, 4))
add_main(a_ssnb, trace(ssnb_obs_pre, ssnb_zoom_start, ssnb_obs_zoom, ssnb_obs_post),
         trace(ssnb_syn_pre, ssnb_zoom_start, ssnb_syn_zoom, ssnb_syn_post))
name_box(a_ssnb, "SSNB", 590, 8)
big_text(a_ssnb, offset_labels["SSNB"], 825, 166)

in_ssnb = make_fig((5.0, 10.0), (-2440, 750), 480, 313, 58, 5, 5, 36,
                   [5.5, 6, 6.5, 7, 7.5, 8, 8.5, 9, 9.5, 10], list(range(-2000, 501, 500)), inset=True)
add_inset(in_ssnb, ssnb_zoom_start, ssnb_obs_zoom, ssnb_syn_zoom, ssnb_p, ssnb_s, ssnb_ps_text)

# ===================== ROW 2 =====================
a_chmb = make_fig((0, 44.75), (-6000, 5300), 1059, 600, 125, 10, 112, 77, ticks_a_x40, ticks_y6000)
add_main(a_chmb, trace(chmb_obs_pre, chmb_zoom_start, chmb_obs_zoom, chmb_obs_post),
         trace(chmb_syn_pre, chmb_zoom_start, chmb_syn_zoom, chmb_syn_post))
name_box(a_chmb, "CHMB", 600, 8)
big_text(a_chmb, offset_labels["CHMB"], 828, 218)

in_chmb = make_fig((5.5, 11.0), (-3290, 610), 485, 317, 58, 5, 5, 36,
                   [6, 6.5, 7, 7.5, 8, 8.5, 9, 9.5, 10, 10.5], list(range(-3000, 501, 500)), inset=True)
add_inset(in_chmb, chmb_zoom_start, chmb_obs_zoom, chmb_syn_zoom, chmb_p, chmb_s, chmb_ps_text)

a_zanb = make_fig((0, 45), (-7700, 5630), 1051, 591, 159, 10, 110, 80, ticks_a_x45, ticks_y6000,
                  margin=(0, 0, 0, 4))
add_main(a_zanb, trace(zanb_obs_pre, zanb_zoom_start, zanb_obs_zoom, zanb_obs_post),
         trace(zanb_syn_pre, zanb_zoom_start, zanb_syn_zoom, zanb_syn_post))
name_box(a_zanb, "ZANB", 591, 8)
big_text(a_zanb, offset_labels["ZANB"], 860, 239)

in_zanb = make_fig((5.4, 11.7), (-600, 750), 469, 307, 58, 5, 5, 34,
                   [6, 7, 8, 9, 10, 11], list(range(-600, 601, 200)), inset=True)
add_inset(in_zanb, zanb_zoom_start, zanb_obs_zoom, zanb_syn_zoom, zanb_p, zanb_s, zanb_ps_text)

# ===================== ROW 3 =====================
b_hgsb = make_fig((0.1, 30.0), (-5400, 5560), 1059, 580, 131, 10, 102, 80, ticks_b_x5,
                  list(range(-5000, 5001, 1000)))
add_main(b_hgsb, unzip(hgsb_b_obs), unzip(hgsb_b_syn), 2.8)
name_box(b_hgsb, "HGSB", 580, 8)
part_title(b_hgsb, "(b)", 0)

b_ssnb = make_fig((0, 29.8), (-4070, 4290), 1058, 597, 148, 5, 109, 80, ticks_b_x0,
                  list(range(-4000, 4001, 1000)), margin=(0, 0, 0, 7))
add_main(b_ssnb, unzip(ssnb_b_obs), unzip(ssnb_b_syn), 2.8)
name_box(b_ssnb, "SSNB", 597, 8)

# ===================== ROW 4 =====================
b_chmb = make_fig((0.05, 30.0), (-3600, 3400), 1061, 594, 131, 10, 12, 72, ticks_b_x5,
                  list(range(-3000, 3001, 1000)))
add_main(b_chmb, unzip(chmb_b_obs), unzip(chmb_b_syn), 2.8)
name_box(b_chmb, "CHMB", 594, 8)

b_zanb = make_fig((0, 30), (-3000, 2870), 1050, 590, 150, 10, 15, 72, ticks_b_x30,
                  list(range(-3000, 2001, 1000)), margin=(0, 0, 0, 5))
add_main(b_zanb, unzip(zanb_b_obs), unzip(zanb_b_syn), 2.8)
name_box(b_zanb, "ZANB", 590, 8)

# ===================== LAYOUT =====================
r1 = row(a_hgsb, wrap(in_hgsb, (20, 0, 0, -544)), a_ssnb, wrap(in_ssnb, (2, 0, 0, -539)))
r2 = row(a_chmb, wrap(in_chmb, (-20, 0, 0, -549)), a_zanb, wrap(in_zanb, (-16, 0, 0, -523)))
r3 = row(b_hgsb, b_ssnb)
r4 = row(b_chmb, b_zanb)
r1.margin = (0, 0, 0, 0)
r2.margin = (0, 0, 0, 0)
r3.margin = (-80, 0, 0, 0)
r4.margin = (0, 0, 0, 0)
layout = column(r1, r2, r3, r4)
layout.margin = (0, 0, 0, 0)

open("out.html", "w").write(file_html(layout, INLINE))
